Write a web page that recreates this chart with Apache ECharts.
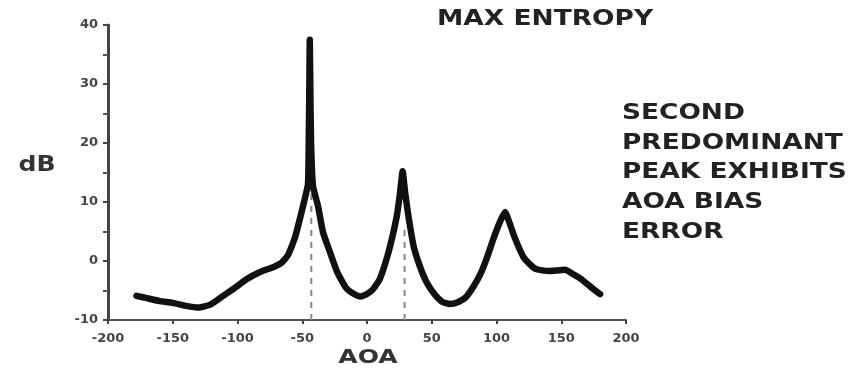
<!DOCTYPE html>
<html>
<head>
<meta charset="utf-8">
<script src="https://cdn.jsdelivr.net/npm/echarts@6/dist/echarts.min.js"></script>
<style>html,body{margin:0;padding:0;background:#fff;}#c{width:863px;height:371px;}</style>
</head>
<body>
<div id="c"></div>
<script>
// AOA (deg) and spectrum level (dB)
const aoa = [-178,-170,-160,-150,-140,-130,-121,-113,-103,-93,-83,-72,-66,-61,-55.6,-49.4,-45.6,-45,-44.5,-44.2,-43.8,-43.2,-41.7,-37.8,-34,-28.6,-23,-16,-10,-5,0,5,10,16,20,23,25.5,27.5,29.5,32,36,41,46,52,58,64,70,76,82,88,93,98,103,106.6,110,114,120.5,126,131,140,147,153,159,165,170,175,180];
const dB  = [-5.9,-6.3,-6.8,-7.1,-7.6,-7.9,-7.4,-6.2,-4.7,-3.1,-1.9,-1.0,-0.3,1.0,4.0,9.3,13,20,30,37.5,30,20,12.7,9.3,4.9,1.5,-1.9,-4.6,-5.6,-6.0,-5.6,-4.7,-3.0,1.0,4.5,7.6,11.5,15.2,11.5,7.6,2.5,-1.0,-3.6,-5.6,-6.9,-7.3,-7.0,-6.2,-4.4,-2.0,0.8,4.0,6.8,8.3,6.5,4.0,0.8,-0.6,-1.4,-1.7,-1.6,-1.5,-2.2,-3.0,-3.9,-4.8,-5.6];
// dashed markers under the two main peaks: [aoa, top dB]
const markerAoa = [-43, 29];
const markerTop = [12, 6];
const xTicks = [-200,-150,-100,-50,0,50,100,150,200];
const yTicks = [-10,0,10,20,30,40];
const titleText = 'MAX ENTROPY';
const noteLines = ['SECOND','PREDOMINANT','PEAK EXHIBITS','AOA BIAS','ERROR'];

const chart = echarts.init(document.getElementById('c'));
const FONT = '"DejaVu Sans", sans-serif';
const series = [{
  type: 'line',
  data: aoa.map((a, i) => [a, dB[i]]),
  showSymbol: false,
  symbol: 'none',
  smooth: 0.15,
  lineStyle: { color: '#111', width: 6.5, join: 'round', cap: 'round' },
  z: 3
}];
markerAoa.forEach((a, i) => {
  series.push({
    type: 'line',
    data: [[a, -10], [a, markerTop[i]]],
    symbol: 'none',
    lineStyle: { color: '#888', width: 2, type: [6, 6] },
    z: 2
  });
});
const graphic = [
  { type: 'text', x: 437, y: 20, scaleX: 1.26, style: { text: titleText, fontSize: 21, fontWeight: 'bold', fontFamily: FONT, fill: '#222', align: 'left', verticalAlign: 'middle' } },
  { type: 'text', x: 37, y: 165, scaleX: 1.14, style: { text: 'dB', fontSize: 22, fontWeight: 'bold', fontFamily: FONT, fill: '#333', align: 'center', verticalAlign: 'middle' } },
  { type: 'text', x: 368, y: 358, scaleX: 1.25, style: { text: 'AOA', fontSize: 20, fontWeight: 'bold', fontFamily: FONT, fill: '#333', align: 'center', verticalAlign: 'middle' } }
];
noteLines.forEach((t, i) => {
  graphic.push({ type: 'text', x: 622, y: 113 + 29.8 * i, scaleX: 1.2, style: { text: t, fontSize: 22, fontWeight: 'bold', fontFamily: FONT, fill: '#222', align: 'left', verticalAlign: 'middle' } });
});

chart.setOption({
  animation: false,
  backgroundColor: '#fff',
  grid: { left: 108, right: 237, top: 25, bottom: 51 },
  xAxis: {
    type: 'value', min: xTicks[0], max: xTicks[xTicks.length - 1], interval: 50,
    axisLine: { show: true, onZero: false, lineStyle: { color: '#555', width: 2 } },
    axisTick: { show: true, length: 4, lineStyle: { color: '#444', width: 2 } },
    splitLine: { show: false },
    axisLabel: { margin: 12, fontSize: 13, fontWeight: 'bold', fontFamily: FONT, color: '#444', formatter: v => String(v) }
  },
  yAxis: {
    type: 'value', min: yTicks[0], max: yTicks[yTicks.length - 1], interval: 10,
    axisLine: { show: true, onZero: false, lineStyle: { color: '#444', width: 3 } },
    axisTick: { show: true, length: 5, lineStyle: { color: '#444', width: 2 } },
    minorTick: { show: true, splitNumber: 2, length: 5, lineStyle: { color: '#555', width: 2 } },
    splitLine: { show: false },
    axisLabel: { margin: 10, fontSize: 13, fontWeight: 'bold', fontFamily: FONT, color: '#444' }
  },
  series: series,
  graphic: graphic
});
</script>
</body>
</html>
